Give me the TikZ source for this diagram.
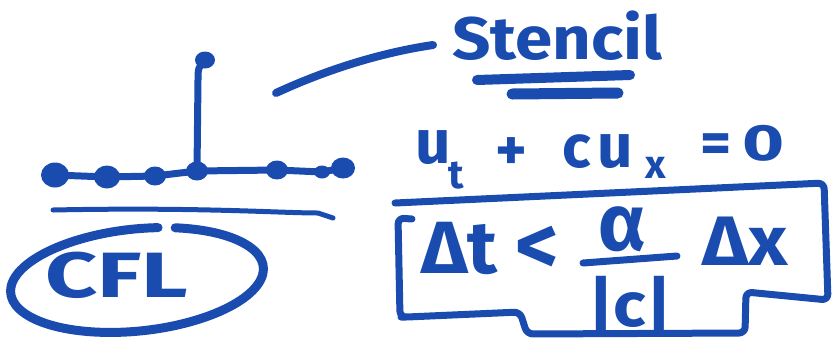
\documentclass[tikz,border=0pt]{standalone}
\usepackage{fontspec}
\usetikzlibrary{shapes.geometric}
\setmainfont{Fira Sans}
\definecolor{ink}{RGB}{26,76,176}
\begin{document}
\begin{tikzpicture}[x=1pt,y=-1pt,
  inkline/.style={draw=ink, line width=#1, line cap=round, line join=round},
  inkline/.default=7pt,
  stdot/.style={ellipse, fill=ink, inner sep=0pt, minimum width=#1, minimum height=#1-3pt},
  hand/.style={text=ink, inner sep=0pt, anchor=base west, font=\bfseries\fontsize{#1}{#1}\selectfont},
]
\useasboundingbox (0,0) rectangle (833,341);

% stencil
\node[stdot=28pt] (d1) at (55,175) {};
\node[stdot=26pt] (d2) at (107,177) {};
\node[stdot=22pt] (d3) at (155,176) {};
\node[stdot=22pt] (d4) at (197,171) {};
\node[stdot=22pt] (d5) at (277,170) {};
\node[stdot=16pt] (d6) at (322,172) {};
\node[stdot=24pt] (d7) at (343,168) {};
\node[stdot=20pt] (top) at (205,60) {};
\draw[inkline] (d1.center) -- (d2.center) -- (d3.center) -- (d4.center) -- (d5.center) -- (d6.center) -- (d7.center);
\draw[inkline] (d4.center) -- (198,80) .. controls (198,68) .. (top.center);

% underline
\coordinate (u1) at (53,210);
\coordinate (u2) at (333,218);
\draw[inkline=5pt] (u1) .. controls (200,207) and (280,213) .. (318,213) -- (u2);

% CFL ellipse
\coordinate (ec) at (137,280);
\draw[inkline=9pt, rotate around={6:(ec)}] (ec) ++(-70:127 and 51) arc[start angle=-70, end angle=282, x radius=127, y radius=51];
\node[hand=64] (cfl) at (45,297) {\scalebox{1.42}[1]{CFL}};

% pointer to stencil
\coordinate (p1) at (276,93);
\coordinate (p2) at (433,45);
\draw[inkline=8pt] (p1) .. controls (330,68) and (385,52) .. (p2);
\node[hand=60] (stencil) at (452,59) {\scalebox{1.12}[1]{Stencil}};
\coordinate (s1) at (477,80); \coordinate (s2) at (630,75);
\coordinate (s3) at (512,94); \coordinate (s4) at (618,93);
\draw[inkline=10pt] (s1) -- (s2);
\draw[inkline=11pt] (s3) -- (s4);

% equation
\node[hand=62] (u) at (415,163) {u};
\node[hand=40] (t) at (448,188) {t};
\node[hand=60] (plus) at (495,170) {+};
\node[hand=60] (c) at (562,167) {c};
\node[hand=62] (ux) at (597,167) {u};
\node[hand=40] (x) at (645,178) {x};
\node[hand=60] (eq) at (700,163) {=};
\node[hand=60] (zero) at (742,160) {\scalebox{1.2}[0.85]{0}};

% box
\draw[inkline=7pt, rounded corners=6pt] (395,203) -- (824,183) -- (828,300) -- (746,292) -- (745,333) -- (527,334) -- (520,312) -- (407,317) -- (400,317) -- (398,218) -- (412,219);

% inequality
\node[hand=74] (dt) at (421,273) {\scalebox{1.05}[1]{Δt}};
\node[hand=84] (lt) at (515,274) {<};
\node[hand=80] (alpha) at (598,250) {α};
\coordinate (f1) at (583,263);
\coordinate (f2) at (677,256);
\draw[inkline=7pt] (f1) -- (f2);
\node[hand=62] (absc) at (588,326) {\scalebox{1.1}[1]{|c|}};
\node[hand=70] (dx) at (702,265) {\scalebox{1.1}[1]{Δx}};
\end{tikzpicture}
\end{document}
